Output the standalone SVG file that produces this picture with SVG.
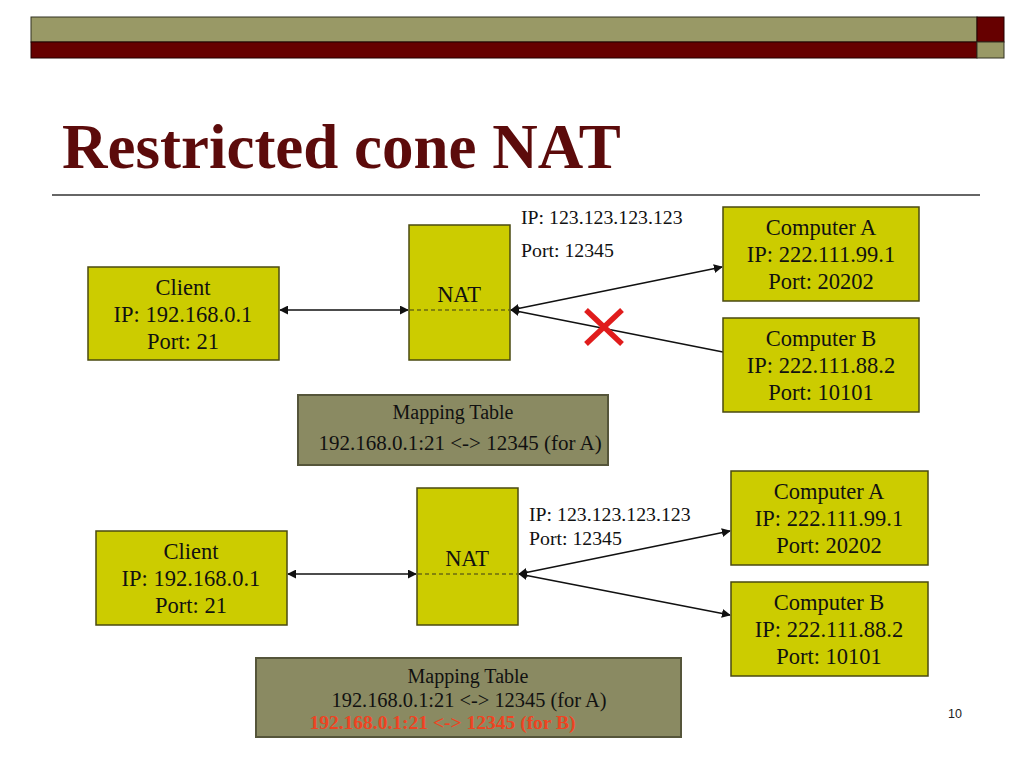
<svg xmlns="http://www.w3.org/2000/svg" width="1024" height="768" viewBox="0 0 1024 768">
<defs>
<style>
.box{fill:#cccc00;stroke:#4a4a10;stroke-width:1.5}
.tbl{fill:#8a8a62;stroke:#55553a;stroke-width:2}
.t{font-family:"Liberation Serif","Times New Roman",serif;fill:#111;text-anchor:middle}
.b{font-size:22.5px}
.s{font-family:"Liberation Serif","Times New Roman",serif;fill:#111;font-size:19.8px}
.m{font-size:20px}
.m2{font-size:21px}
.conn{stroke:#111;stroke-width:1.6;fill:none}
.dash{stroke:#6b6b10;stroke-width:1.3;stroke-dasharray:4 3}
</style>
<marker id="ah" viewBox="0 0 10 10" refX="9" refY="5" markerWidth="9" markerHeight="9" markerUnits="userSpaceOnUse" orient="auto-start-reverse">
<path d="M0,0 L10,5 L0,10 z" fill="#111"/>
</marker>
</defs>
<rect width="1024" height="768" fill="#ffffff"/>
<g id="header">
<rect x="31" y="17" width="946" height="25" fill="#999966" stroke="#333322" stroke-width="1"/>
<rect x="31" y="42" width="946" height="16" fill="#660000" stroke="#220000" stroke-width="1"/>
<rect x="977" y="17" width="27" height="25" fill="#660000" stroke="#220000" stroke-width="1"/>
<rect x="977" y="42" width="27" height="16" fill="#999966" stroke="#333322" stroke-width="1"/>
</g>
<text x="62" y="168" font-family="'Liberation Serif','Times New Roman',serif" font-weight="bold" font-size="63" fill="#5c0b0b">Restricted cone NAT</text>
<line x1="52" y1="195" x2="980" y2="195" stroke="#333" stroke-width="1.5"/>

<g id="connectors">
<line class="conn" x1="280" y1="310" x2="408" y2="310" marker-start="url(#ah)" marker-end="url(#ah)"/>
<line class="conn" x1="511" y1="310" x2="722" y2="267" marker-start="url(#ah)" marker-end="url(#ah)"/>
<line class="conn" x1="723" y1="352" x2="511" y2="310" marker-end="url(#ah)"/>
<line class="conn" x1="288" y1="574" x2="416" y2="574" marker-start="url(#ah)" marker-end="url(#ah)"/>
<line class="conn" x1="519" y1="574" x2="730" y2="531" marker-start="url(#ah)" marker-end="url(#ah)"/>
<line class="conn" x1="519" y1="574" x2="730" y2="615" marker-start="url(#ah)" marker-end="url(#ah)"/>
</g>

<g id="blocked">
<line x1="586" y1="310" x2="622" y2="344" stroke="#e01c1c" stroke-width="5.5"/>
<line x1="622" y1="310" x2="586" y2="344" stroke="#e01c1c" stroke-width="5.5"/>
</g>

<g id="client1">
<rect class="box" x="88" y="267" width="191" height="93"/>
<text class="t b" x="183" y="295">Client</text>
<text class="t b" x="183" y="322">IP: 192.168.0.1</text>
<text class="t b" x="183" y="349">Port: 21</text>
</g>
<g id="nat1">
<rect class="box" x="409" y="225" width="101" height="135"/>
<text class="t b" x="459" y="302">NAT</text>
<line class="dash" x1="410" y1="310" x2="509" y2="310"/>
</g>
<g id="natlabel1">
<text class="s" x="521" y="224">IP: 123.123.123.123</text>
<text class="s" x="521" y="257">Port: 12345</text>
</g>
<g id="compA1">
<rect class="box" x="723" y="207" width="196" height="94"/>
<text class="t b" x="821" y="235">Computer A</text>
<text class="t b" x="821" y="262">IP: 222.111.99.1</text>
<text class="t b" x="821" y="289">Port: 20202</text>
</g>
<g id="compB1">
<rect class="box" x="723" y="318" width="196" height="94"/>
<text class="t b" x="821" y="346">Computer B</text>
<text class="t b" x="821" y="373">IP: 222.111.88.2</text>
<text class="t b" x="821" y="400">Port: 10101</text>
</g>
<g id="table1">
<rect class="tbl" x="298" y="395" width="310" height="70"/>
<text class="t m" x="453" y="419">Mapping Table</text>
<text class="t m2" x="460" y="450">192.168.0.1:21 &lt;-&gt; 12345 (for A)</text>
</g>

<g id="client2">
<rect class="box" x="96" y="531" width="191" height="94"/>
<text class="t b" x="191" y="559">Client</text>
<text class="t b" x="191" y="586">IP: 192.168.0.1</text>
<text class="t b" x="191" y="613">Port: 21</text>
</g>
<g id="nat2">
<rect class="box" x="417" y="488" width="101" height="137"/>
<text class="t b" x="467" y="566">NAT</text>
<line class="dash" x1="418" y1="574" x2="517" y2="574"/>
</g>
<g id="natlabel2">
<text class="s" x="529" y="521">IP: 123.123.123.123</text>
<text class="s" x="529" y="545">Port: 12345</text>
</g>
<g id="compA2">
<rect class="box" x="731" y="471" width="197" height="94"/>
<text class="t b" x="829" y="499">Computer A</text>
<text class="t b" x="829" y="526">IP: 222.111.99.1</text>
<text class="t b" x="829" y="553">Port: 20202</text>
</g>
<g id="compB2">
<rect class="box" x="731" y="582" width="197" height="94"/>
<text class="t b" x="829" y="610">Computer B</text>
<text class="t b" x="829" y="637">IP: 222.111.88.2</text>
<text class="t b" x="829" y="664">Port: 10101</text>
</g>
<g id="table2">
<rect class="tbl" x="256" y="658" width="425" height="79"/>
<text class="t m" x="468" y="683">Mapping Table</text>
<text class="t" x="469" y="707" font-size="20.4">192.168.0.1:21 &lt;-&gt; 12345 (for A)</text>
<text class="t" x="442.5" y="729" font-size="19.5" font-weight="bold" style="fill:#ee4422">192.168.0.1:21 &lt;-&gt; 12345 (for B)</text>
</g>
<text x="955" y="718" font-family="'Liberation Sans',Arial,sans-serif" font-size="12.5" fill="#222" text-anchor="middle">10</text>
</svg>
